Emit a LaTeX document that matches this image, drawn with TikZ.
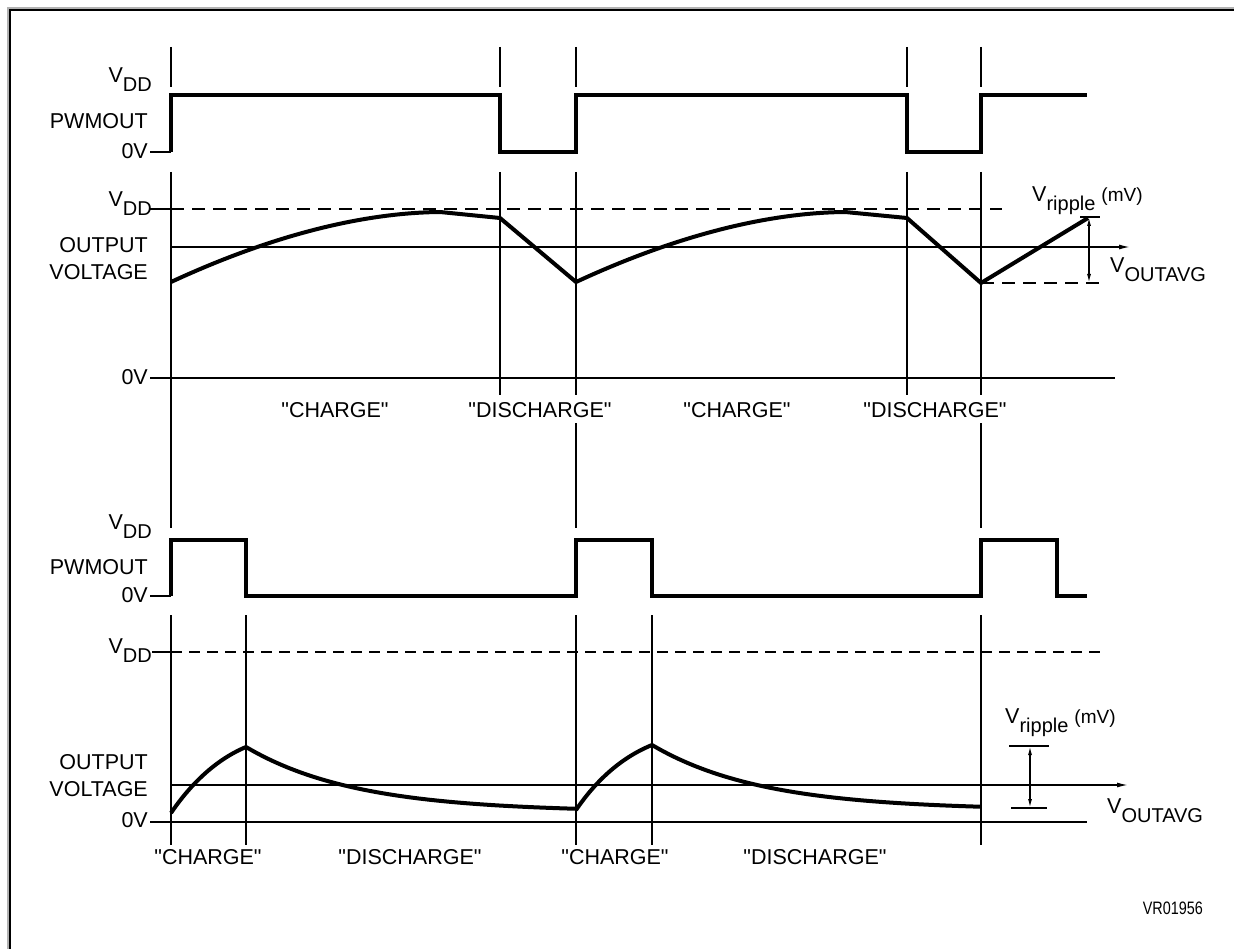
\documentclass[tikz,border=0pt]{standalone}
\usepackage{fontspec}
\setmainfont{Liberation Sans}
\usetikzlibrary{arrows.meta}
\newcommand{\vsub}[2]{#1\raisebox{-9pt}{\fontsize{20}{20}\selectfont #2}}
\newcommand{\qt}[1]{\textquotedbl#1\textquotedbl}
\begin{document}
\begin{tikzpicture}[x=1pt,y=-1pt,
  sig/.style={line width=4pt,line join=miter},
  thinl/.style={line width=1.4pt},
  thkl/.style={line width=2.6pt},
  dshthick/.style={line width=2.4pt,dash pattern=on 13pt off 8pt},
  dshthin/.style={line width=1.5pt,dash pattern=on 11pt off 7pt},
  lbl/.style={font=\fontsize{21.5}{23}\selectfont,inner sep=0pt},
  arr/.style={-{Latex[length=11pt,width=5pt]}},
  darr/.style={{Latex[length=9pt,width=4pt]}-{Latex[length=9pt,width=4pt]}}]
\useasboundingbox (0,0) rectangle (1234,949);
% frame
\draw[line width=3.5pt,gray!60] (9,949) -- (9,9) -- (1234,9);
\draw[line width=2pt,black] (10,949) -- (10,10) -- (1234,10);

% ---------------- top PWM ----------------
\node[lbl,anchor=base east] (vdd1) at (152,83) {\vsub{V}{DD}};
\node[lbl,anchor=east] (pwm1) at (148,121) {PWMOUT};
\node[lbl,anchor=east] (zv1) at (148,151.5) {0V};
\draw[thinl] (150,152) -- (171,152);
\draw[thkl] (171,47) -- (171,87);
\draw[thinl] (500,47) -- (500,87);
\draw[thinl] (576,47) -- (576,87);
\draw[thinl] (907,47) -- (907,87);
\draw[thkl] (981,47) -- (981,87);
\draw[sig] (171,152) -- (171,95) -- (500,95) -- (500,152) -- (576,152) -- (576,95)
  -- (907,95) -- (907,152) -- (981,152) -- (981,95) -- (1087,95);

% ---------------- top output ----------------
\node[lbl,anchor=base east] (vdd2) at (152,207) {\vsub{V}{DD}};
\node[lbl,anchor=east] (out2) at (148,245.5) {OUTPUT};
\node[lbl,anchor=east] (vol2) at (148,272) {VOLTAGE};
\node[lbl,anchor=east] (zv2) at (148,377) {0V};
\draw[thkl] (150,209) -- (171,209);
\draw[dshthick] (171,209) -- (1002,209);
\draw[thkl] (150,378) -- (1115,378);
\draw[thinl,arr] (171,247) -- (1130,247);
\draw[thkl] (171,172) -- (171,528);
\draw[thinl] (500,172) -- (500,395);
\draw[thinl] (576,172) -- (576,395);
\draw[thinl] (907,172) -- (907,395);
\draw[thkl] (981,172) -- (981,395);
\draw[sig,line join=round] (171,282) .. controls (240,250) and (340,213) .. (440,212)
  -- (500,218) -- (576,282) .. controls (645,250) and (745,213) .. (845,212)
  -- (907,218) -- (981,283) -- (1088,218);
\draw[thinl] (1080,217) -- (1100,217);
\draw[dshthick] (981,283) -- (1105,283);
\draw[thinl,darr] (1089,217) -- (1089,283);
\node[lbl,anchor=base west] (vr1) at (1032,202) {V\raisebox{-9pt}{\fontsize{20}{20}\selectfont ripple}\ {\fontsize{19}{19}\selectfont (mV)}};
\node[lbl,anchor=base west] (va1) at (1110,273) {\vsub{V}{OUTAVG}};
\node[lbl] (c1) at (335,410) {\qt{CHARGE}};
\node[lbl] (d1) at (540,410) {\qt{DISCHARGE}};
\node[lbl] (c2) at (737,410) {\qt{CHARGE}};
\node[lbl] (d2) at (935,410) {\qt{DISCHARGE}};
\draw[thkl] (576,423) -- (576,528);
\draw[thkl] (981,423) -- (981,528);

% ---------------- bottom PWM ----------------
\node[lbl,anchor=base east] (vdd3) at (152,529) {\vsub{V}{DD}};
\node[lbl,anchor=east] (pwm3) at (148,567) {PWMOUT};
\node[lbl,anchor=east] (zv3) at (148,595) {0V};
\draw[thinl] (150,596) -- (171,596);
\draw[sig] (171,596) -- (171,540) -- (246,540) -- (246,596) -- (576,596) -- (576,540)
  -- (652,540) -- (652,596) -- (981,596) -- (981,540) -- (1057,540) -- (1057,596) -- (1087,596);

% ---------------- bottom output ----------------
\node[lbl,anchor=base east] (vdd4) at (152,653) {\vsub{V}{DD}};
\node[lbl,anchor=east] (out4) at (148,762) {OUTPUT};
\node[lbl,anchor=east] (vol4) at (148,789) {VOLTAGE};
\node[lbl,anchor=east] (zv4) at (148,820) {0V};
\draw[thinl] (152,652) -- (171,652);
\draw[dshthin] (171,652) -- (1100,652);
\draw[thkl] (150,822) -- (1087,822);
\draw[thinl,arr] (171,785) -- (1128,785);
\draw[thkl] (171,615) -- (171,845);
\draw[thinl] (246,615) -- (246,845);
\draw[thkl] (576,615) -- (576,845);
\draw[thinl] (652,615) -- (652,845);
\draw[thkl] (981,615) -- (981,845);
\draw[sig,line join=round] (171,813) .. controls (190,785) and (215,760) .. (246,747);
\draw[sig,line join=round] plot[domain=246:576,samples=60] (\x,{812-65*exp(-(\x-246)/110)});
\draw[sig,line join=round] (576,810) .. controls (595,782) and (620,758) .. (652,745);
\draw[sig,line join=round] plot[domain=652:981,samples=60] (\x,{810-65*exp(-(\x-652)/110)});
\draw[thkl] (1009,746) -- (1049,746);
\draw[thinl] (1011,808) -- (1047,808);
\draw[thinl,darr] (1030,746) -- (1030,808);
\node[lbl,anchor=base west] (vr2) at (1005,723) {V\raisebox{-9pt}{\fontsize{20}{20}\selectfont ripple}\ {\fontsize{19}{19}\selectfont (mV)}};
\node[lbl,anchor=base west] (va2) at (1107,813) {\vsub{V}{OUTAVG}};
\node[lbl] (c3) at (208,857) {\qt{CHARGE}};
\node[lbl] (d3) at (410,857) {\qt{DISCHARGE}};
\node[lbl] (c4) at (615,857) {\qt{CHARGE}};
\node[lbl] (d4) at (815,857) {\qt{DISCHARGE}};
\node[lbl,anchor=east] (vr) at (1203,908.5) {\scalebox{0.8}[1]{\fontsize{18}{20}\selectfont VR01956}};
\end{tikzpicture}
\end{document}
